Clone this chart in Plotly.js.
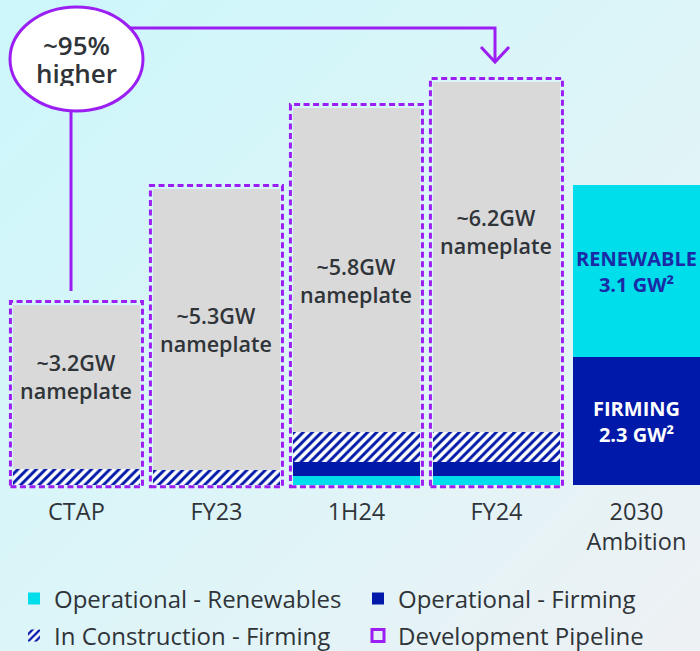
<!DOCTYPE html>
<html><head><meta charset="utf-8">
<script src="https://cdn.plot.ly/plotly-3.0.1.min.js"></script>
<style>
html,body{margin:0;padding:0;width:700px;height:651px;overflow:hidden;
background:linear-gradient(135deg,#ccf7fb 0%,#dcf5f8 50%,#eef1f4 100%);}
#chart{width:700px;height:651px;}
</style></head><body><div id="chart"></div>
<script>
// ---- data ----
const categories = ['CTAP','FY23','1H24','FY24','2030'];
const tickLabels = ['CTAP','FY23','1H24','FY24','2030<br>Ambition'];
const operationalRenewables = [null,null,0.16,0.16,null];
const operationalFirming    = [null,null,0.25,0.25,null];
const inConstructionFirming = [0.29,0.27,0.54,0.54,null];
const developmentPipeline   = [2.95,5.06,5.84,6.31,null];
const ambitionFirming       = [null,null,null,null,2.3];
const ambitionRenewables    = [null,null,null,null,3.1];
const nameplateLabels = ['~3.2GW<br>nameplate','~5.3GW<br>nameplate','~5.8GW<br>nameplate','~6.2GW<br>nameplate'];
const ambitionRenewLabel = 'RENEWABLE<br>3.1 GW²';
const ambitionFirmLabel  = 'FIRMING<br>2.3 GW²';
const calloutText = ['~95%','higher'];

// ---- styling ----
const CYAN='#00DDEB', BLUE='#0019A8', GREY='#D9D9D9', PURPLE='#9B1FF2', TXT='#2F3439';
const FONT='"Open Sans", "Noto Sans", sans-serif';
const BW = 0.907;
const W=700, PH=489;
const px = x => x/W, py = y => 1 - y/PH;

function bar(name, y, color, extra){
  return Object.assign({type:'bar', name, x:categories, y, width:BW,
    marker:{color, line:{width:0}}, hoverinfo:'skip'}, extra||{});
}
const traces = [
  bar('Operational - Renewables', operationalRenewables, CYAN, {legend:'legend'}),
  bar('Operational - Firming', operationalFirming, BLUE, {legend:'legend2'}),
  bar('In Construction - Firming', inConstructionFirming, '#ffffff', {legend:'legend3',
     marker:{color:'#ffffff', line:{width:0}, pattern:{shape:'/', fgcolor:BLUE, bgcolor:'#ffffff', size:6.5, solidity:0.45}}}),
  bar('Development Pipeline', developmentPipeline, GREY, {showlegend:false}),
  bar('2030 Firming', ambitionFirming, BLUE, {showlegend:false}),
  bar('2030 Renewables', ambitionRenewables, CYAN, {showlegend:false})
];

// dashed pipeline outlines computed from the stacked data
const shapes = [];
for (let i=0;i<4;i++){
  const total = [operationalRenewables,operationalFirming,inConstructionFirming,developmentPipeline]
      .reduce((s,a)=>s+(a[i]||0),0);
  shapes.push({type:'rect', xref:'x', yref:'y', x0:i-BW/2-0.018, x1:i+BW/2+0.018,
    y0:-0.03, y1:total+0.065, line:{color:PURPLE, width:3, dash:'6px,3.5px'},
    fillcolor:'rgba(0,0,0,0)', layer:'above',
    showlegend: i===0, name:'Development Pipeline', legend:'legend4'});
}
// callout connectors
shapes.push({type:'line', xref:'paper', yref:'paper', x0:px(71), x1:px(71), y0:py(100), y1:py(291),
  line:{color:PURPLE, width:3}});
shapes.push({type:'path', xref:'paper', yref:'paper',
  path:`M ${px(110)},${py(28)} L ${px(495)},${py(28)} L ${px(495)},${py(62)}`,
  line:{color:PURPLE, width:3}});
shapes.push({type:'path', xref:'paper', yref:'paper',
  path:`M ${px(481)},${py(47)} L ${px(495)},${py(62)} L ${px(509)},${py(47)}`,
  line:{color:PURPLE, width:3}});
shapes.push({type:'circle', xref:'paper', yref:'paper', x0:px(10), x1:px(143), y0:py(111), y1:py(7),
  fillcolor:'#ffffff', line:{color:PURPLE, width:3}});

const labelY = [1.955, 2.80, 3.685, 4.567];
const annotations = nameplateLabels.map((t,i)=>({x:i, y:labelY[i], xref:'x', yref:'y', text:t,
  showarrow:false, xanchor:'center', yanchor:'middle', font:{family:FONT, size:21.5, color:TXT, weight:600}}));
annotations.push({x:4, y:ambitionFirming[4]+ambitionRenewables[4]/2, xref:'x', yref:'y', text:ambitionRenewLabel,
  showarrow:false, xanchor:'center', yanchor:'middle', font:{family:FONT, size:20, color:'#1A2BA5', weight:700}});
annotations.push({x:4, y:ambitionFirming[4]/2, xref:'x', yref:'y', text:ambitionFirmLabel,
  showarrow:false, xanchor:'center', yanchor:'middle', font:{family:FONT, size:20, color:'#ffffff', weight:700}});
annotations.push({x:px(76.5), y:py(45), xref:'paper', yref:'paper', text:calloutText[0], showarrow:false,
  xanchor:'center', yanchor:'middle', height:26, font:{family:FONT, size:26, color:TXT, weight:600}});
annotations.push({x:px(76.5), y:py(73), xref:'paper', yref:'paper', text:calloutText[1], showarrow:false,
  xanchor:'center', yanchor:'middle', height:26, font:{family:FONT, size:26, color:TXT, weight:600}});

function leg(x, y){
  return {orientation:'h', x:px(x), y:py(y), xanchor:'left', yanchor:'middle', bgcolor:'rgba(0,0,0,0)',
    font:{family:FONT, size:24, color:TXT}, itemclick:false, itemdoubleclick:false};
}

const layout = {
  width:700, height:651, margin:{l:0, r:0, t:0, b:162, autoexpand:false},
  paper_bgcolor:'rgba(0,0,0,0)', plot_bgcolor:'rgba(0,0,0,0)',
  barmode:'stack', showlegend:true,
  font:{family:FONT, color:TXT},
  xaxis:{type:'category', categoryarray:categories, tickvals:categories, ticktext:tickLabels,
    range:[-0.546, 4.454], showgrid:false, zeroline:false, showline:false, ticks:'',
    tickfont:{family:FONT, size:23.5, color:TXT}, ticklabelstandoff:6, fixedrange:true},
  yaxis:{range:[-0.072, 8.739], visible:false, fixedrange:true},
  legend: leg(14, 599),
  legend2: leg(358, 599),
  legend3: leg(14, 636),
  legend4: leg(358, 636),
  shapes, annotations
};
Plotly.newPlot('chart', traces, layout, {displayModeBar:false, staticPlot:true});
</script></body></html>
